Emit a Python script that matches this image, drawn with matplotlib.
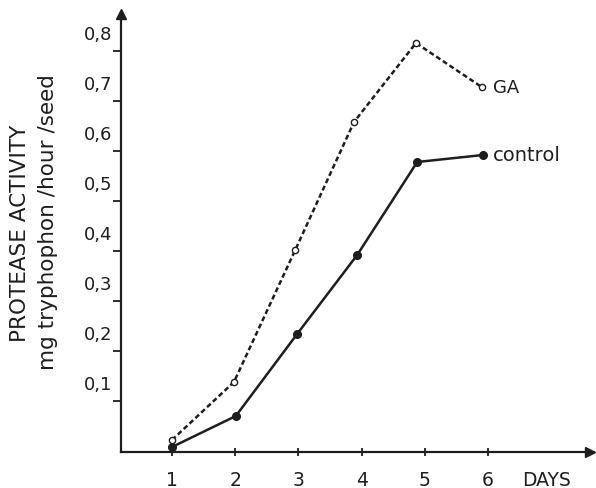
import matplotlib
matplotlib.use('Agg')
from matplotlib import pyplot as plt
from matplotlib.transforms import ScaledTranslation

# values (x = day position as drawn)
daysGA = [1.0, 1.98, 2.95, 3.88, 4.86, 5.9]
valuesGA = [0.022, 0.138, 0.402, 0.658, 0.816, 0.728]
daysControl = [1.0, 2.01, 2.98, 3.93, 4.88, 5.92]
valuesControl = [0.008, 0.07, 0.234, 0.392, 0.578, 0.592]

xTicks = [1, 2, 3, 4, 5, 6]
yTicks = [0.1, 0.2, 0.3, 0.4, 0.5, 0.6, 0.7, 0.8]
yTickLabels = ['0,1', '0,2', '0,3', '0,4', '0,5', '0,6', '0,7', '0,8']

ink = '#1e1e1e'
plt.rcParams['font.family'] = ['DejaVu Sans']

fig = plt.figure(figsize=(5.96, 4.89), dpi=100)
ax = fig.add_axes([121/596, 1 - 453/489, (590 - 121)/596, (453 - 15)/489])

ax.plot(daysControl, valuesControl, color=ink, lw=1.8, marker='o', ms=5.5,
        mfc=ink, mec=ink, solid_capstyle='round')
ax.plot(daysGA, valuesGA, color=ink, lw=1.8, dashes=(2.0, 1.2), marker='o', ms=4.5,
        mfc='white', mec=ink, mew=1.0)

ax.set_xlim(1 - 51/63.2, 1 + 418/63.2)
ax.set_ylim(-0.002, 0.874)

# only left and bottom spines, with arrow heads
for side in ['top', 'right']:
    ax.spines[side].set_visible(False)
for side in ['left', 'bottom']:
    ax.spines[side].set_color(ink)
    ax.spines[side].set_linewidth(1.6)
ax.plot(1, 0, marker='>', color=ink, ms=7, transform=ax.transAxes, clip_on=False)
ax.plot(0, 1, marker='^', color=ink, ms=7, transform=ax.transAxes, clip_on=False)

ax.set_xticks(xTicks)
ax.set_xticklabels([str(d) for d in xTicks], fontsize=13.5, color=ink)
ax.tick_params(axis='x', direction='inout', length=6, width=1.3, color=ink, pad=10)

ax.set_yticks(yTicks)
ax.set_yticklabels(yTickLabels, fontsize=13, color=ink)
ax.tick_params(axis='y', direction='out', length=6, width=1.3, color=ink, pad=0)
# labels sit above their tick marks in the original
shift = ScaledTranslation(0, 6/72, fig.dpi_scale_trans)
for label in ax.get_yticklabels():
    label.set_va('bottom')
    label.set_transform(label.get_transform() + shift)

# y axis title, two separate lines as in the original
fig.text(20/596, 1 - 233/489, 'PROTEASE ACTIVITY', rotation=90, ha='center', va='center',
         fontsize=15.5, color=ink)
fig.text(48/596, 1 - 222/489, 'mg tryphophon /hour /seed', rotation=90, ha='center', va='center',
         fontsize=15.5, color=ink)

# axis unit and series labels
fig.text(546/596, 1 - 481/489, 'DAYS', ha='center', va='center', fontsize=13.5, color=ink)
ax.annotate('GA', (daysGA[-1], valuesGA[-1]), xytext=(8, 0), textcoords='offset points',
            va='center', fontsize=13, color=ink)
ax.annotate('control', (daysControl[-1], valuesControl[-1]), xytext=(7, 0), textcoords='offset points',
            va='center', fontsize=14, color=ink)

plt.savefig('out.png', dpi=100)
